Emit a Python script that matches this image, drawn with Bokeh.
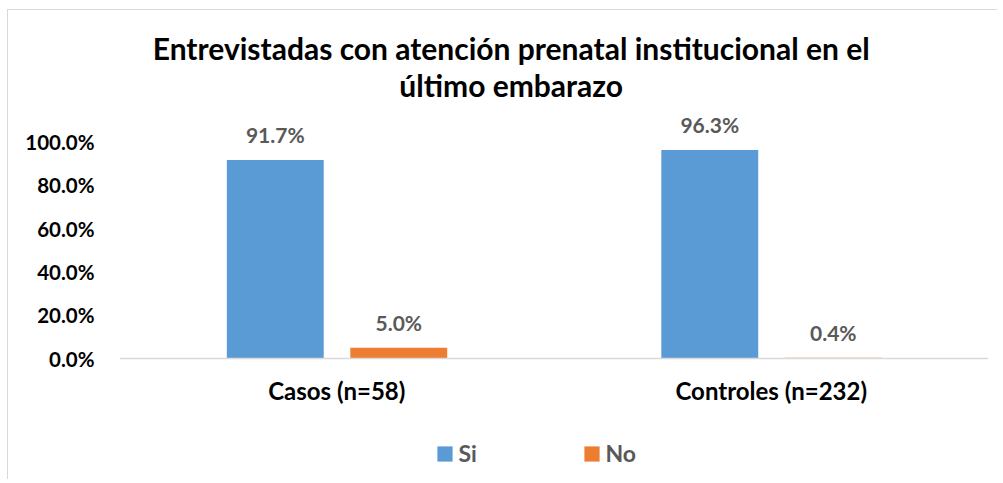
from bokeh.plotting import figure
from bokeh.models import (ColumnDataSource, FactorRange, Range1d, LabelSet, Label, Span,
                          Legend, LegendItem, NumeralTickFormatter, FixedTicker)
from bokeh.transform import dodge
from bokeh.core.properties import value
from bokeh.embed import file_html
from bokeh.resources import INLINE

# ---- data ----
categories = ["Casos (n=58)", "Controles (n=232)"]
series = ["Si", "No"]
si_values = [0.917, 0.963]
no_values = [0.050, 0.004]
y_ticks = [0.0, 0.2, 0.4, 0.6, 0.8, 1.0]
title_lines = ["Entrevistadas con atención prenatal institucional en el",
               "último embarazo"]
colors = ["#5B9BD5", "#ED7D31"]

FONT = "Lato"
LABEL_GRAY = "#595959"

src = ColumnDataSource(dict(
    cat=categories,
    base=[0.0] * len(categories),
    si=si_values,
    no=no_values,
    si_lbl=[f"{v*100:.1f}%" for v in si_values],
    no_lbl=[f"{v*100:.1f}%" for v in no_values],
))

# frame covers the full height; y range chosen so 0..1 sits where the reference plots it
p = figure(width=990, height=470,
           x_range=FactorRange(*categories), y_range=Range1d(-0.5635, 1.6074),
           output_backend="svg", toolbar_location=None,
           min_border_left=111, min_border_right=10,
           min_border_top=0, min_border_bottom=0)
p.styles = {"border-left": "1px solid #D9D9D9", "border-top": "1px solid #D9D9D9",
            "margin-left": "7px", "margin-top": "9px"}
p.outline_line_color = None
p.xgrid.grid_line_color = None
p.ygrid.grid_line_color = None
p.xaxis.visible = False

# y axis
p.yaxis.ticker = FixedTicker(ticks=y_ticks)
p.yaxis.formatter = NumeralTickFormatter(format="0.0%")
p.yaxis.axis_line_color = None
p.yaxis.major_tick_line_color = None
p.yaxis.minor_tick_line_color = None
p.yaxis.major_label_text_font = FONT
p.yaxis.major_label_text_font_style = "bold"
p.yaxis.major_label_text_font_size = "20.5px"
p.yaxis.major_label_text_color = "black"
p.yaxis.major_label_standoff = 19

# category baseline
p.add_layout(Span(location=0, dimension="width", line_color="#D9D9D9", line_width=1.5))

offsets = [-0.1415, 0.1427]
bar_w = 0.223
r_si = p.vbar(x=dodge("cat", offsets[0], range=p.x_range), top="si", width=bar_w,
              source=src, fill_color=colors[0], line_color=None)
r_no = p.vbar(x=dodge("cat", offsets[1], range=p.x_range), top="no", width=bar_w,
              source=src, fill_color=colors[1], line_color=None)

for off, col, lbl in [(offsets[0], "si", "si_lbl"), (offsets[1], "no", "no_lbl")]:
    p.add_layout(LabelSet(x=dodge("cat", off, range=p.x_range), y=col, text=lbl, source=src,
                          text_align="center", text_baseline="alphabetic", y_offset=17,
                          text_font=value(FONT), text_font_style="bold",
                          text_font_size="21px", text_color=LABEL_GRAY))

# category labels under the baseline
p.add_layout(LabelSet(x="cat", y="base", text="cat", source=src,
                      text_align="center", text_baseline="alphabetic", y_offset=-41,
                      text_font=value(FONT), text_font_style="bold",
                      text_font_size="24px", text_color="black"))

# title (two centred lines)
for t, yy in [(title_lines[0], 432.5), (title_lines[1], 396)]:
    p.add_layout(Label(x=391.7, y=yy, x_units="screen", y_units="screen", text=t,
                       text_align="center", text_baseline="alphabetic",
                       text_font=FONT, text_font_style="bold",
                       text_font_size="30px", text_color="black"))

legend = Legend(items=[LegendItem(label=series[0], renderers=[r_si]),
                       LegendItem(label=series[1], renderers=[r_no])],
                orientation="horizontal", location=(315.5, 13),
                glyph_width=19, glyph_height=19, label_standoff=5,
                label_width=68, spacing=55,
                padding=0, margin=0, border_line_color=None,
                background_fill_alpha=0,
                label_text_font=FONT, label_text_font_style="bold",
                label_text_font_size="23px", label_text_color=LABEL_GRAY)
p.add_layout(legend, "center")

open("out.html", "w").write(file_html(p, INLINE))
